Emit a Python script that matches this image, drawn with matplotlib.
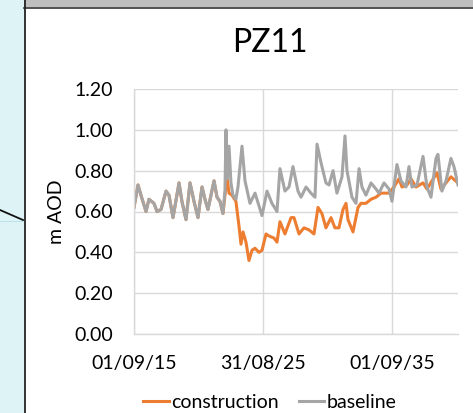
import matplotlib
matplotlib.use("Agg")
import matplotlib.pyplot as plt
from matplotlib.patches import Rectangle
from matplotlib.lines import Line2D
import pandas as pd

plt.rcParams['font.family'] = ['Lato', 'DejaVu Sans']

# period before construction: both series identical
shared_dates = ["2015-09-01", "2015-12-23", "2016-03-16", "2016-08-06", "2016-10-29",
                "2017-03-19", "2017-06-13", "2017-10-05", "2018-02-24", "2018-05-18",
                "2018-09-09", "2019-02-27", "2019-05-20", "2019-09-12", "2020-01-04",
                "2020-04-25", "2020-08-17", "2020-12-09", "2021-03-02", "2021-05-26",
                "2021-08-20", "2021-11-14", "2022-02-07", "2022-05-01", "2022-07-25"]
shared_values = [0.62, 0.73, 0.68, 0.60, 0.66,
                 0.64, 0.60, 0.61, 0.70, 0.68,
                 0.57, 0.74, 0.65, 0.56, 0.74,
                 0.65, 0.57, 0.72, 0.66, 0.61,
                 0.68, 0.75, 0.67, 0.65, 0.59]

baseline_dates = ["2022-09-20", "2022-10-18", "2022-11-16", "2023-01-12", "2023-03-08",
                  "2023-05-04", "2023-07-27", "2023-09-23", "2024-01-15", "2024-04-09",
                  "2024-08-28", "2025-01-18", "2025-08-03", "2025-12-23", "2026-05-12",
                  "2026-10-02", "2026-12-25", "2027-05-15", "2027-09-07", "2027-12-28",
                  "2028-05-18", "2028-08-12", "2029-01-01", "2029-05-20", "2029-09-12",
                  "2029-11-08", "2030-02-28", "2030-07-19", "2030-10-13", "2031-02-05",
                  "2031-05-26", "2031-10-16", "2032-01-09", "2032-03-05", "2032-07-25",
                  "2032-11-16", "2033-02-10", "2033-05-04", "2033-08-25", "2034-01-15",
                  "2034-06-05", "2034-08-28", "2035-01-18", "2035-06-07", "2035-09-01",
                  "2036-01-20", "2036-05-12", "2036-10-02", "2036-12-25", "2037-03-19",
                  "2037-08-09", "2038-01-26", "2038-05-18", "2038-09-09", "2039-01-29",
                  "2039-03-25", "2039-07-16", "2039-11-08", "2040-03-27", "2040-06-21",
                  "2040-10-13"]
baseline_values = [0.70, 1.00, 0.76, 0.92, 0.74,
                   0.68, 0.66, 0.72, 0.92, 0.75,
                   0.64, 0.69, 0.58, 0.70, 0.64,
                   0.60, 0.81, 0.70, 0.72, 0.82,
                   0.70, 0.67, 0.72, 0.69, 0.67,
                   0.93, 0.84, 0.74, 0.73, 0.80,
                   0.69, 0.77, 0.97, 0.80, 0.67,
                   0.64, 0.81, 0.72, 0.68, 0.74,
                   0.71, 0.69, 0.74, 0.71, 0.65,
                   0.83, 0.75, 0.72, 0.82, 0.72,
                   0.73, 0.87, 0.72, 0.67, 0.86,
                   0.88, 0.70, 0.75, 0.86, 0.82,
                   0.73]

construction_dates = ["2022-09-20", "2022-11-16", "2023-01-12", "2023-04-06", "2023-07-27",
                      "2023-10-21", "2023-12-17", "2024-02-13", "2024-05-07", "2024-07-30",
                      "2024-10-24", "2025-01-18", "2025-05-09", "2025-08-03", "2025-11-25",
                      "2026-02-18", "2026-07-08", "2026-10-02", "2026-12-25", "2027-05-15",
                      "2027-11-03", "2028-01-26", "2028-06-16", "2028-11-05", "2029-03-25",
                      "2029-08-14", "2029-12-06", "2030-03-27", "2030-07-19", "2030-12-09",
                      "2031-03-30", "2031-07-22", "2031-11-14", "2032-02-07", "2032-04-03",
                      "2032-08-23", "2033-01-12", "2033-04-06", "2033-08-25", "2034-01-15",
                      "2034-06-05", "2034-10-24", "2035-06-07", "2035-10-27", "2036-03-16",
                      "2036-06-10", "2036-10-30", "2037-02-21", "2037-07-11", "2038-01-26",
                      "2038-05-18", "2039-02-27", "2039-06-18", "2040-03-27", "2040-10-13"]
construction_values = [0.68, 0.77, 0.69, 0.68, 0.65,
                       0.53, 0.44, 0.50, 0.45, 0.36,
                       0.41, 0.42, 0.40, 0.41, 0.49,
                       0.48, 0.47, 0.45, 0.55, 0.49,
                       0.57, 0.57, 0.49, 0.52, 0.51,
                       0.49, 0.62, 0.59, 0.52, 0.57,
                       0.52, 0.52, 0.61, 0.64, 0.56,
                       0.50, 0.62, 0.64, 0.64, 0.66,
                       0.67, 0.69, 0.69, 0.72, 0.76,
                       0.72, 0.73, 0.76, 0.72, 0.74,
                       0.71, 0.79, 0.71, 0.77, 0.74]

tick_dates = ["2015-09-01", "2025-08-31", "2035-09-01"]
tick_labels = ["01/09/15", "31/08/25", "01/09/35"]
y_ticks = [0.0, 0.2, 0.4, 0.6, 0.8, 1.0, 1.2]

fig = plt.figure(figsize=(4.73, 4.13), dpi=100)
W, H = 473, 413

# surroundings of the chart (cropped screenshot)
fig.add_artist(Rectangle((0, 0), 24 / W, 1, transform=fig.transFigure,
                         facecolor='#DDF3F6', edgecolor='none'))
fig.add_artist(Rectangle((24 / W, 1 - 7 / H), 1, 7 / H, transform=fig.transFigure,
                         facecolor='#BFBFBF', edgecolor='none'))
fig.add_artist(Line2D([24 / W, 1], [1 - 7.5 / H, 1 - 7.5 / H], transform=fig.transFigure,
                      color='#333333', lw=1.2))
fig.add_artist(Line2D([24.5 / W, 24.5 / W], [0, 1], transform=fig.transFigure,
                      color='#222222', lw=1.3))
fig.add_artist(Line2D([0, 23 / W], [1 - 210 / H, 1 - 220 / H], transform=fig.transFigure,
                      color='#111111', lw=1.3))
fig.add_artist(Line2D([0, 23 / W], [1 - 221 / H, 1 - 221 / H], transform=fig.transFigure,
                      color='#B5DEE6', lw=0.6))

ax = fig.add_axes([134 / W, 1 - 334 / H, (458 - 134) / W, (334 - 89) / H])

c_dates = pd.to_datetime(shared_dates + construction_dates)
c_vals = shared_values + construction_values
b_dates = pd.to_datetime(shared_dates + baseline_dates)
b_vals = shared_values + baseline_values

ax.plot(c_dates, c_vals, color='#ED7D31', lw=2.2, label='construction',
        solid_joinstyle='round')
ax.plot(b_dates, b_vals, color='#A5A5A5', lw=2.2, label='baseline',
        solid_joinstyle='round')

ax.set_xlim(pd.Timestamp("2015-09-01"), pd.Timestamp("2040-10-13"))
ax.set_ylim(0, 1.2)
ax.set_xticks(pd.to_datetime(tick_dates))
ax.set_xticklabels(tick_labels)
ax.set_yticks(y_ticks)
ax.set_yticklabels([f"{v:.2f}" for v in y_ticks])
ax.tick_params(length=0, labelsize=14, pad=15)
ax.grid(True, color='#D9D9D9', lw=1.0)
ax.set_axisbelow(True)
for s in ['top', 'right']:
    ax.spines[s].set_visible(False)
for s in ['left', 'bottom']:
    ax.spines[s].set_color('#D9D9D9')
    ax.spines[s].set_linewidth(1.0)
ax.set_ylabel('m AOD', fontsize=14, labelpad=7)

fig.text(270 / W, 1 - 43 / H, 'PZ11', fontsize=23, ha='center', va='center')

fig.legend(loc='center', bbox_to_anchor=(270 / W, 1 - 402 / H), ncol=2, frameon=False,
           fontsize=14, handlelength=1.3, handletextpad=0.15, columnspacing=1.0,
           borderpad=0)

fig.savefig('out.png', dpi=100)
